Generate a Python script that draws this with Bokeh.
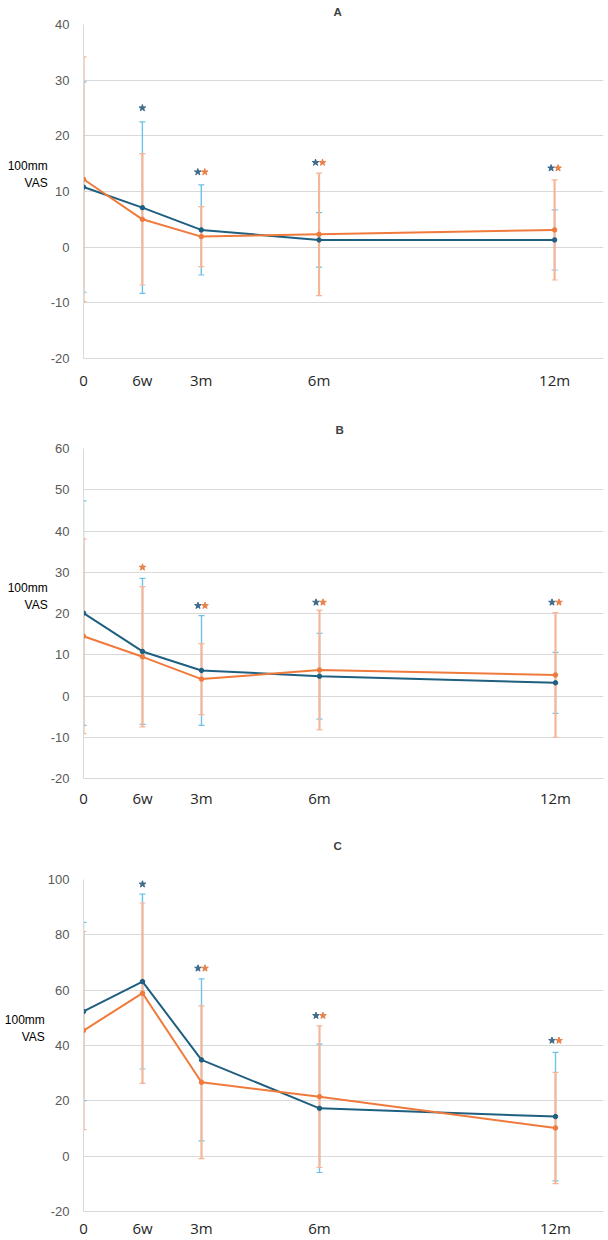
from bokeh.plotting import figure
from bokeh.layouts import column
from bokeh.models import (ColumnDataSource, Range1d, FixedTicker, Whisker, TeeHead)
from bokeh.embed import file_html
from bokeh.resources import INLINE

# ---------------- data ----------------
months = [0, 1.5, 3, 6, 12]
tick_labels = ["0", "6w", "3m", "6m", "12m"]
y_caption = "100mm\nVAS\n\n"

A_blue_mean = [10.8, 7.1, 3.1, 1.3, 1.3]
A_blue_sd = [18.9, 15.4, 8.1, 4.9, 5.4]
A_orange_mean = [12.2, 5.0, 1.9, 2.3, 3.1]
A_orange_sd = [22.0, 11.8, 5.4, 11.0, 9.0]
A_blue_star_x = [1.5, 3, 6, 12]
A_blue_star_y = [25.0, 13.5, 15.2, 14.2]
A_orange_star_x = [3, 6, 12]
A_orange_star_y = [13.5, 15.2, 14.2]

B_blue_mean = [20.1, 10.8, 6.2, 4.8, 3.2]
B_blue_sd = [27.2, 17.7, 13.3, 10.4, 7.4]
B_orange_mean = [14.5, 9.5, 4.1, 6.3, 5.1]
B_orange_sd = [23.6, 17.0, 8.6, 14.5, 15.1]
B_blue_star_x = [3, 6, 12]
B_blue_star_y = [21.9, 22.7, 22.7]
B_orange_star_x = [1.5, 3, 6, 12]
B_orange_star_y = [31.2, 21.9, 22.7, 22.7]

C_blue_mean = [52.3, 63.1, 34.8, 17.3, 14.3]
C_blue_sd = [32.2, 31.6, 29.3, 23.2, 23.2]
C_orange_mean = [45.4, 58.9, 26.7, 21.5, 10.2]
C_orange_sd = [35.8, 32.6, 27.6, 25.6, 20.1]
C_blue_star_x = [1.5, 3, 6, 12]
C_blue_star_y = [98.3, 67.9, 50.8, 41.8]
C_orange_star_x = [3, 6, 12]
C_orange_star_y = [67.9, 50.8, 41.8]

BLUE = "#1F5F80"
ORANGE = "#F07A3C"
BLUE_ERR = "#6EC1EA"
ORANGE_ERR = "#F5B597"
GRID = "#D9D9D9"
W = 608
PX_PER_MONTH = 118 / 3  # keeps every time point on a whole pixel


def make_panel(letter, yticks, height, top, bottom, left, right, standoff,
               bm, bsd, om, osd, bsx, bsy, osx, osy,
               title_offset, title_standoff, cap_standoff):
    xmax = (W - left - right) / PX_PER_MONTH
    p = figure(width=W, height=height, output_backend="svg", toolbar_location=None,
               x_range=Range1d(0, xmax), y_range=Range1d(yticks[0], yticks[-1]),
               min_border_left=left, min_border_right=right, min_border_top=top,
               min_border_bottom=bottom)
    p.outline_line_color = None
    p.background_fill_color = "white"
    p.border_fill_color = "white"
    p.xgrid.grid_line_color = None
    p.ygrid.grid_line_color = GRID
    p.ygrid.grid_line_width = 1

    # panel letter
    p.title.text = letter
    p.title.align = "left"
    p.title.offset = title_offset
    p.title.standoff = title_standoff
    p.title.vertical_align = "top"
    p.title.text_font = "Liberation Sans"
    p.title.text_font_style = "bold"
    p.title.text_font_size = "11.5px"
    p.title.text_color = "#404040"

    p.xaxis.ticker = FixedTicker(ticks=months)
    p.xaxis.major_label_overrides = {m: t for m, t in zip(months, tick_labels)}
    p.xaxis.major_label_text_font = "Open Sans"
    p.xaxis.major_label_text_font_size = "15px"
    p.xaxis.major_label_text_color = "#262626"
    p.xaxis.major_label_standoff = standoff
    p.xaxis.axis_line_color = GRID
    p.xaxis.major_tick_line_color = None
    p.xaxis.minor_tick_line_color = None
    p.xaxis.major_tick_out = 0
    p.xaxis.major_tick_in = 0

    ya = p.yaxis[0]
    ya.ticker = FixedTicker(ticks=yticks)
    ya.major_label_overrides = {t: str(t) for t in yticks}  # plain hyphen minus
    ya.major_label_text_font = "Liberation Sans"
    ya.major_label_text_font_size = "13px"
    ya.major_label_text_color = "#595959"
    ya.major_label_standoff = 14
    ya.axis_line_color = GRID
    ya.major_tick_line_color = None
    ya.minor_tick_line_color = None
    ya.major_tick_out = 0
    ya.major_tick_in = 0
    ya.axis_label = y_caption
    ya.axis_label_standoff = cap_standoff
    ya.axis_label_text_font = "Liberation Sans"
    ya.axis_label_text_font_size = "12px"
    ya.axis_label_text_font_style = "normal"
    ya.axis_label_text_color = "#000000"
    try:
        ya.axis_label_orientation = "horizontal"
    except Exception:
        pass

    # error bars (blue beneath orange; orange stem wider so it fully covers)
    for mean, sd, col, lw in ((bm, bsd, BLUE_ERR, 1.4), (om, osd, ORANGE_ERR, 2.2)):
        src = ColumnDataSource(dict(x=months,
                                    up=[m + s for m, s in zip(mean, sd)],
                                    lo=[m - s for m, s in zip(mean, sd)]))
        w = Whisker(source=src, base="x", upper="up", lower="lo",
                    line_color=col, line_width=lw,
                    upper_head=TeeHead(size=6, line_color=col, line_width=1.2),
                    lower_head=TeeHead(size=6, line_color=col, line_width=1.2))
        p.add_layout(w)

    # mean lines
    p.line(months, bm, line_color=BLUE, line_width=2)
    p.scatter(months, bm, size=4.5, fill_color=BLUE, line_color=BLUE)
    p.line(months, om, line_color=ORANGE, line_width=2)
    p.scatter(months, om, size=4.5, fill_color=ORANGE, line_color=ORANGE)

    # significance stars
    d = 3.5 / PX_PER_MONTH
    both = set(bsx) & set(osx)
    bxs = [x - d if x in both else x for x in bsx]
    oxs = [x + d if x in both else x for x in osx]
    p.scatter(bxs, bsy, marker="star", size=7, fill_color="#3D6A8A", line_color="#3D6A8A")
    p.scatter(oxs, osy, marker="star", size=7, fill_color="#E8804A", line_color="#E8804A")
    return p


pA = make_panel("A", [-20, -10, 0, 10, 20, 30, 40], 410, 24, 52, 82, 5, 11,
                A_blue_mean, A_blue_sd, A_orange_mean, A_orange_sd,
                A_blue_star_x, A_blue_star_y, A_orange_star_x, A_orange_star_y,
                250, 9, 0)
pB = make_panel("B", [-20, -10, 0, 10, 20, 30, 40, 50, 60], 402, 38, 34, 83, 5, 9,
                B_blue_mean, B_blue_sd, B_orange_mean, B_orange_sd,
                B_blue_star_x, B_blue_star_y, B_orange_star_x, B_orange_star_y,
                252, 21, 0)
pC = make_panel("C", [-20, 0, 20, 40, 60, 80, 100], 428, 67, 26, 83, 5, 6,
                C_blue_mean, C_blue_sd, C_orange_mean, C_orange_sd,
                C_blue_star_x, C_blue_star_y, C_orange_star_x, C_orange_star_y,
                250, 52, 0)

layout = column(pA, pB, pC, spacing=0)
open("out.html", "w").write(file_html(layout, INLINE))
